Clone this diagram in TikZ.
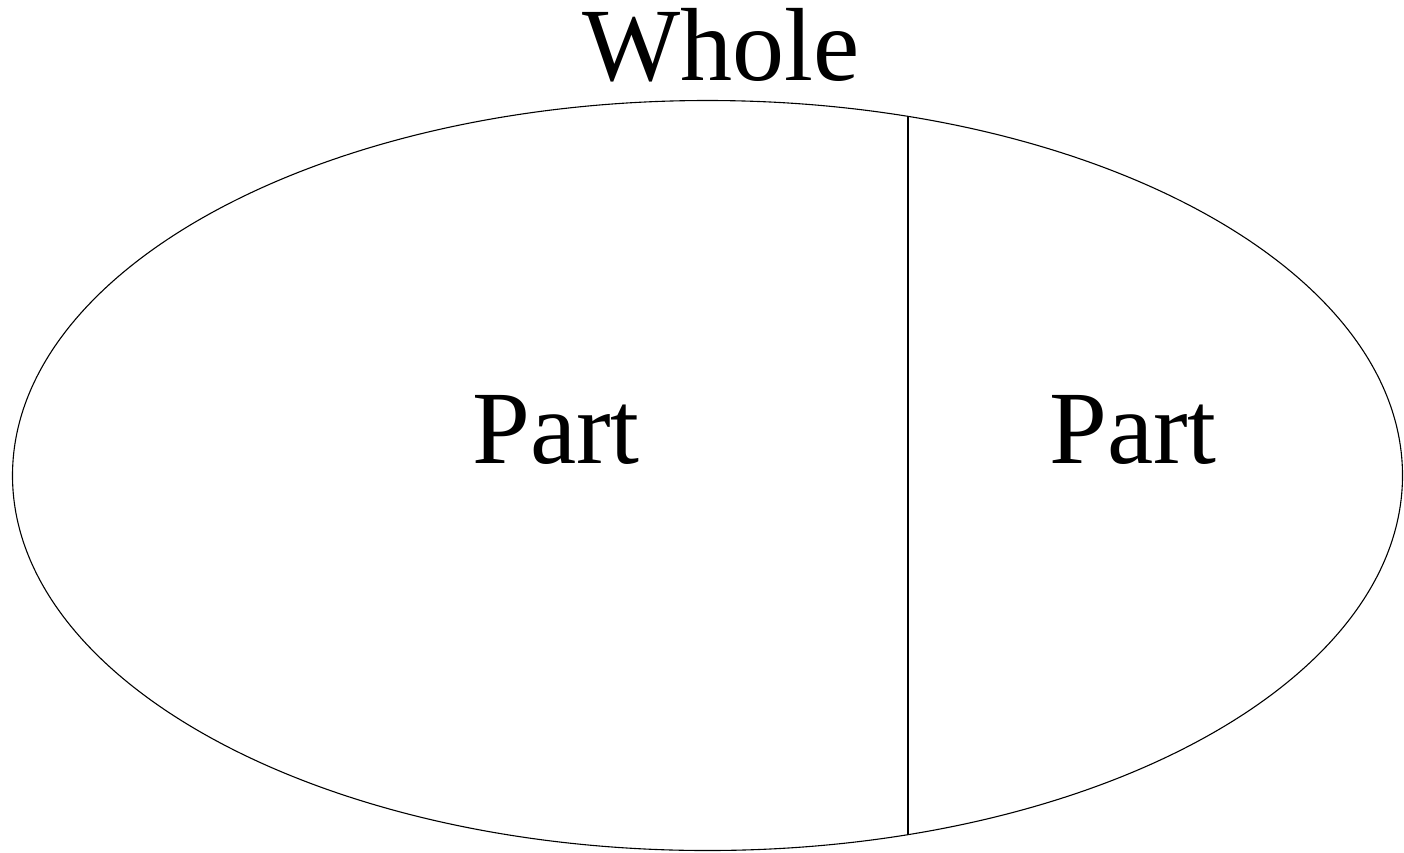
\documentclass[tikz,border=0pt]{standalone}
\usepackage{fontspec}
\setmainfont{Liberation Serif}
\begin{document}
\begin{tikzpicture}[x=1pt,y=-1pt,
  lbl/.style={font=\fontsize{104}{104}\selectfont,anchor=base,inner sep=0pt},
  edge/.style={draw=black,line width=1.1pt}]
\useasboundingbox (0,0) rectangle (1404,852);
\draw[edge] (707.5,475.5) ellipse [x radius=695, y radius=375];
\coordinate (top) at (908,116);
\coordinate (bot) at (908,835);
\draw[edge] (top) -- (bot);
\node[lbl] (whole) at (721,80) {Whole};
\node[lbl] (p1) at (556,463) {Part};
\node[lbl] (p2) at (1133,463) {Part};
\end{tikzpicture}
\end{document}
